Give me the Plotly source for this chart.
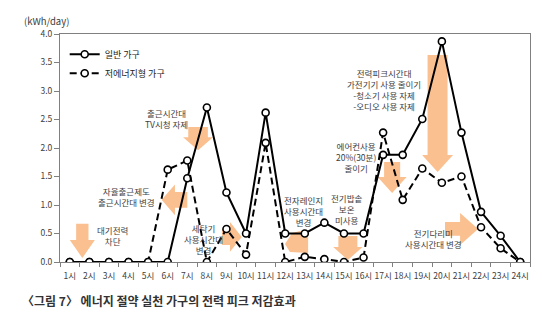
import plotly.graph_objects as go

hours = list(range(1, 25))
hour_labels = [f"{h}시" for h in hours]
general = [0, 0, 0, 0, 0, 0, 1.47, 2.71, 1.22, 0.50, 2.62, 0.50,
           0.50, 0.69, 0.50, 0.50, 1.88, 1.88, 2.51, 3.87, 2.27, 0.88, 0.46, 0]
low_energy = [0, 0, 0, 0, 0, 1.62, 1.78, 0, 0.58, 0.13, 2.09, 0,
              0.09, 0.05, 0, 0.08, 2.27, 1.09, 1.64, 1.39, 1.50, 0.61, 0.24, 0]
series_names = ["일반 가구", "저에너지형 가구"]
y_ticks = [0, 0.5, 1.0, 1.5, 2.0, 2.5, 3.0, 3.5, 4.0]

FONT = "Noto Sans CJK KR"
ORANGE = "#FAC090"
TXT = "#404040"

fig = go.Figure()
for vals, name, dash in [(general, series_names[0], "solid"), (low_energy, series_names[1], "7px,4px")]:
    fig.add_trace(go.Scatter(
        x=hours, y=vals, name=name, mode="lines+markers",
        line=dict(color="black", width=2, dash=dash),
        marker=dict(symbol="circle", size=7, color="white", line=dict(color="black", width=1.6)),
    ))


def down_arrow(xc, ytop, yhead, ytip, sw, hw):
    return (f"M {xc-sw/2},{ytop} L {xc+sw/2},{ytop} L {xc+sw/2},{yhead} L {xc+hw/2},{yhead} "
            f"L {xc},{ytip} L {xc-hw/2},{yhead} L {xc-sw/2},{yhead} Z")


def horiz_arrow(xtail, xbase, xtip, yc, sh, hh):
    return (f"M {xtail},{yc+sh} L {xbase},{yc+sh} L {xbase},{yc+hh} L {xtip},{yc} "
            f"L {xbase},{yc-hh} L {xbase},{yc-sh} L {xtail},{yc-sh} Z")


arrows = [
    down_arrow(1.64, 0.67, 0.386, 0.07, 0.63, 1.28),
    horiz_arrow(7.0, 6.37, 5.69, 1.09, 0.14, 0.27),
    down_arrow(7.55, 2.37, 2.19, 1.96, 1.0, 1.53),
    horiz_arrow(8.77, 9.18, 9.78, 0.44, 0.14, 0.26),
    "M 11.99,0.316 L 12.35,0.509 L 12.76,0.544 L 13.17,0.456 L 13.17,0.158 L 12.24,0.175 Z",
    down_arrow(15.2, 0.456, 0.263, 0.035, 0.97, 1.5),
    down_arrow(17.46, 1.754, 1.49, 1.21, 0.82, 1.48),
    down_arrow(19.78, 3.63, 1.877, 1.58, 1.02, 1.58),
    horiz_arrow(20.16, 20.93, 21.85, 0.58, 0.12, 0.28),
]
for p in arrows:
    fig.add_shape(type="path", path=p, xref="x", yref="y", fillcolor=ORANGE,
                  line=dict(width=0), layer="below")

labels = [
    (3.16, 0.46, "대기전력<br>차단"),
    (3.92, 1.146, "자율출근제도<br>출근시간대 변경"),
    (5.95, 2.51, "출근시간대<br>TV시청 자제"),
    (7.82, 0.395, "세탁기<br>사용시간대<br>변경"),
    (12.91, 0.90, "전자레인지<br>사용시간대<br>변경"),
    (15.14, 0.93, "전기밥솥<br>보온<br>미사용"),
    (15.6, 1.85, "에어컨사용<br>20%(30분)<br>줄이기"),
    (17.05, 3.02, "전력피크시간대<br>가전기기 사용 줄이기<br>-청소기 사용 자제<br>-오디오 사용 자제"),
    (19.55, 0.415, "전기다리미<br>사용시간대 변경"),
]
for x, y, t in labels:
    fig.add_annotation(x=x, y=y, text=t, showarrow=False, xref="x", yref="y",
                       font=dict(family=FONT, size=8.5, color=TXT), align="center")

fig.add_annotation(x=-0.08, y=1.057, xref="paper", yref="paper", text="(kWh/day)",
                   showarrow=False, xanchor="left", yanchor="middle",
                   font=dict(family=FONT, size=9.5, color=TXT))
fig.add_annotation(x=-0.085, y=-0.167, xref="paper", yref="paper",
                   text="<b>〈그림 7〉 에너지 절약 실천 가구의 전력 피크 저감효과</b>",
                   showarrow=False, xanchor="left", yanchor="middle",
                   font=dict(family=FONT, size=12, color="#333333"))

fig.update_layout(
    width=550, height=325,
    margin=dict(l=60, r=20, t=34, b=63),
    paper_bgcolor="white", plot_bgcolor="white",
    showlegend=True,
    legend=dict(x=0.01, y=0.975, xanchor="left", yanchor="top", bgcolor="rgba(0,0,0,0)",
                font=dict(family=FONT, size=9, color="#222222")),
    font=dict(family=FONT),
)
fig.update_xaxes(range=[0.5, 24.5], tickvals=hours, ticktext=hour_labels, ticks="",
                 ticklabelstandoff=6,
                 showgrid=False, zeroline=False, showline=True, linecolor="#808080",
                 linewidth=1, mirror=True,
                 minor=dict(ticks="outside", tick0=0.5, dtick=1, ticklen=4, tickcolor="#808080"),
                 tickfont=dict(family=FONT, size=8.5, color=TXT))
fig.update_yaxes(range=[0, 4], tickvals=y_ticks, tickformat=".1f", ticks="outside",
                 ticklen=5, tickcolor="#808080", showgrid=False, zeroline=False,
                 showline=True, linecolor="#808080", linewidth=1, mirror=True,
                 tickfont=dict(family=FONT, size=8.5, color=TXT))

fig.write_html("out.html")
